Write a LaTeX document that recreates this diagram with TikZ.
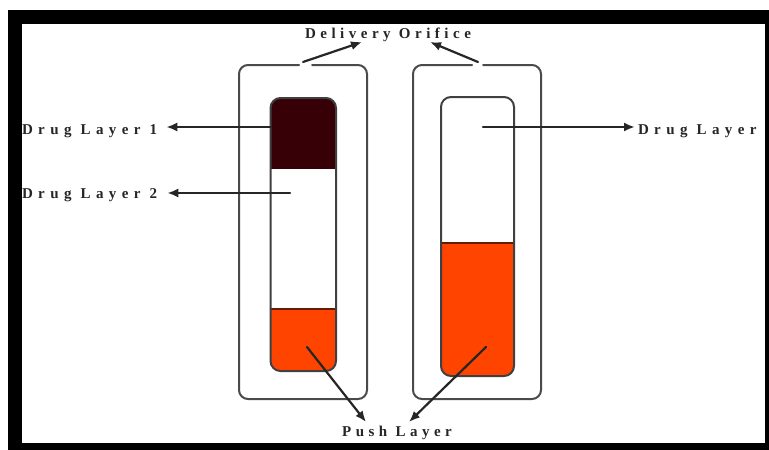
\documentclass[tikz,border=0pt]{standalone}
\usepackage{fontspec}
\usetikzlibrary{arrows.meta, calc}
\newfontfamily\labelfont[LetterSpace=30]{Liberation Serif Bold}
\newfontfamily\drugfont[LetterSpace=36]{Liberation Serif Bold}
\definecolor{darklayer}{HTML}{360006}
\definecolor{pushlayer}{HTML}{FF4400}
\definecolor{wallgray}{HTML}{4A4A4A}
\tikzset{
  layerlabel/.style={font=\labelfont\fontsize{15}{17}\selectfont, inner sep=0pt, outer sep=2pt, text=black!85},
  druglabel/.style={layerlabel, font=\drugfont\fontsize{15}{17}\selectfont, anchor=west},
  shell/.style={draw=wallgray, line width=2pt},
  tube/.style={draw=black!75, line width=2pt},
  pointer/.style={-{Latex[length=11pt,width=9pt]}, line width=2.2pt, black!85}
}
\begin{document}
\begin{tikzpicture}[x=1pt, y=-1pt, line cap=round, line join=round]

    \useasboundingbox (0,0) rectangle (769,450);

    % Marco
    \fill[white] (0,0) rectangle (769,450);
    \fill[black] (8,10) rectangle (769,450);
    \fill[white] (22,24) rectangle (765,443);

    % Capsula izquierda
    \draw[shell, rounded corners=9] (299,65) -- (239,65) -- (239,399) -- (367,399) -- (367,65) -- (312,65);

    % Capas izquierda
    \begin{scope}
        \clip[rounded corners=10] (270.5,98) rectangle (336,371);
        \fill[darklayer] (270,98) rectangle (337,169);
        \fill[white] (270,169) rectangle (337,309);
        \fill[pushlayer] (270,309) rectangle (337,372);
    \end{scope}
    \draw[black!60!pushlayer, line width=1.6pt] (270.5,309) -- (336,309);
    \draw[tube, rounded corners=10] (270.5,98) rectangle (336,371);

    % Capsula derecha
    \draw[shell, rounded corners=9] (472,65) -- (413,65) -- (413,399) -- (541,399) -- (541,65) -- (483,65);

    % Capas derecha
    \begin{scope}
        \clip[rounded corners=10] (441,97) rectangle (514,376);
        \fill[white] (441,97) rectangle (514,243);
        \fill[pushlayer] (441,243) rectangle (514,376);
    \end{scope}
    \draw[black!60!pushlayer, line width=1.6pt] (441,243) -- (514,243);
    \draw[tube, rounded corners=10] (441,97) rectangle (514,376);

    % Etiquetas
    \node[layerlabel] (orifice) at (388,35) {Delivery Orifice};
    \node[druglabel] (drugone) at (20,131) {Drug Layer 1};
    \node[druglabel] (drugtwo) at (20,195) {Drug Layer 2};
    \node[druglabel] (drugright) at (636,131) {Drug Layer};
    \node[layerlabel] (push) at (397,433) {Push Layer};

    % Puntos de salida
    \coordinate (gapL) at (303,62);
    \coordinate (gapR) at (478,62);
    \coordinate (layerA) at (271,127);
    \coordinate (layerB) at (290,193);
    \coordinate (layerC) at (483,127);
    \coordinate (pushA) at (307,347);
    \coordinate (pushB) at (486,347);

    % Flechas
    \draw[pointer] (gapL) -- ([xshift=-26,yshift=-7]orifice.center);
    \draw[pointer] (gapR) -- ([xshift=42,yshift=-7]orifice.center);
    \draw[pointer] (layerA) -- ([xshift=7]layerA -| drugone.east);
    \draw[pointer] (layerB) -- ([xshift=8]layerB -| drugtwo.east);
    \draw[pointer] (layerC) -- ([xshift=-1]layerC -| drugright.west);
    \draw[pointer] (pushA) -- ([xshift=-31,yshift=11]push.center);
    \draw[pointer] (pushB) -- ([xshift=12,yshift=11]push.center);

\end{tikzpicture}
\end{document}
